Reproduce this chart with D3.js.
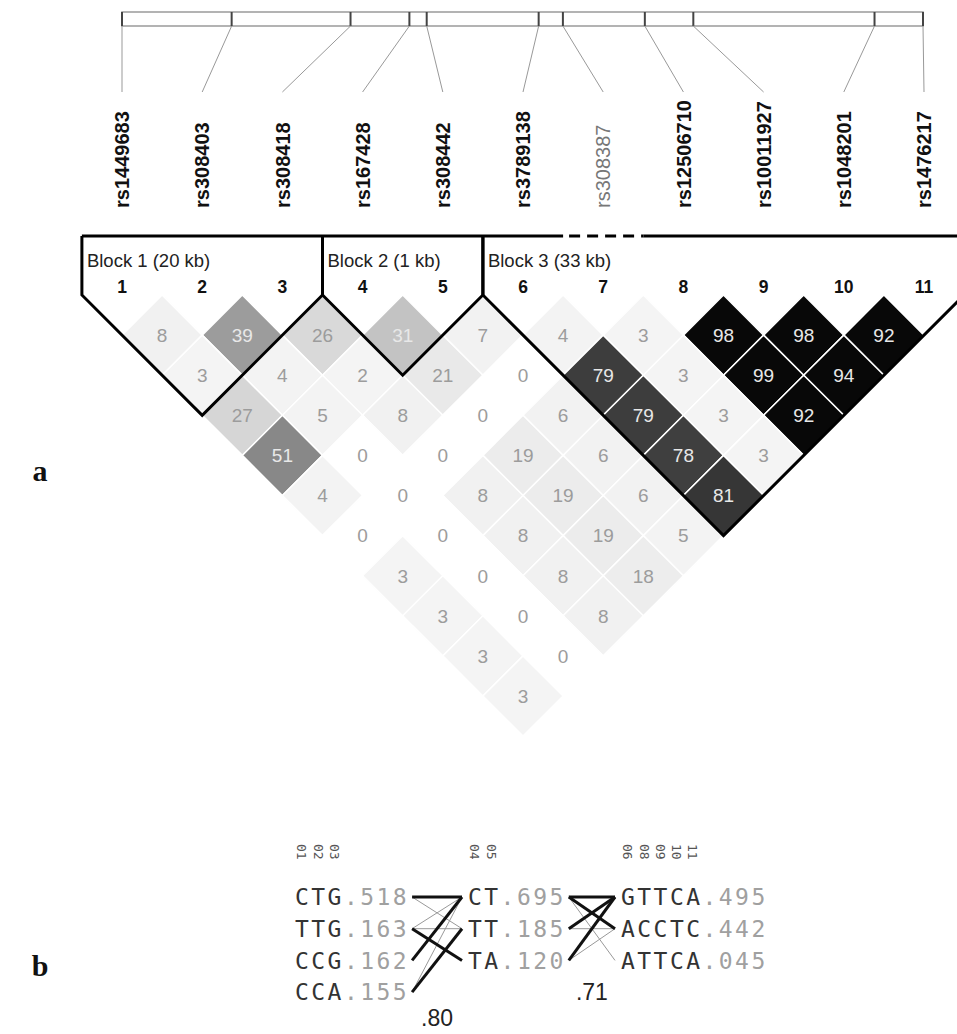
<!DOCTYPE html>
<html>
<head>
<meta charset="utf-8">
<script src="https://cdn.jsdelivr.net/npm/d3@7"></script>
<style>
  body { margin: 0; background: #fff; }
  svg { display: block; }
</style>
</head>
<body>
<script>
// markers, in map order
var snpNames = ['rs1449683', 'rs308403', 'rs308418', 'rs167428', 'rs308442', 'rs3789138',
                'rs308387', 'rs12506710', 'rs10011927', 'rs1048201', 'rs1476217'];
// position along the region (kb from first marker)
var snpKb = [0, 9.5, 19.8, 24.9, 26.4, 36.1, 38.2, 45.3, 49.5, 65.2, 69.4];
// marker left out of block 3
var excludedSnps = [7];

// pairwise LD (r2 x 100); row d holds the pairs (i, i + d + 1)
var ldRows = [
    [8, 39, 26, 31, 7, 4, 3, 98, 98, 92],
    [3, 4, 2, 21, 0, 79, 3, 99, 94],
    [27, 5, 8, 0, 6, 79, 3, 92],
    [51, 0, 0, 19, 6, 78, 3],
    [4, 0, 8, 19, 6, 81],
    [0, 0, 8, 19, 5],
    [3, 0, 8, 18],
    [3, 0, 8],
    [3, 0],
    [3]
];

// haplotype blocks
var blockNames = ['Block 1 (20 kb)', 'Block 2 (1 kb)', 'Block 3 (33 kb)'];
var blockFirst = [1, 4, 6];
var blockLast = [3, 5, 11];

// haplotypes per block (panel b)
var hapMarkers = [['01', '02', '03'], ['04', '05'], ['06', '08', '09', '10', '11']];
var hapStrings = [['CTG', 'TTG', 'CCG', 'CCA'], ['CT', 'TT', 'TA'], ['GTTCA', 'ACCTC', 'ATTCA']];
var hapFreqs = [['.518', '.163', '.162', '.155'], ['.695', '.185', '.120'], ['.495', '.442', '.045']];

// transitions between neighbouring blocks: [from, to, frequency]
var cross12 = [[0, 0, 0.40], [0, 1, 0.05], [1, 0, 0.04], [1, 1, 0.03], [1, 2, 0.11],
               [2, 0, 0.14], [3, 0, 0.03], [3, 1, 0.12]];
var cross23 = [[0, 0, 0.42], [0, 1, 0.20], [0, 2, 0.03], [1, 0, 0.12], [1, 1, 0.04],
               [2, 0, 0.10], [2, 1, 0.02]];
var multiD = ['.80', '.71'];

// init
var width = 957,
    height = 1034,
    sans = 'Liberation Sans, Arial, sans-serif',
    mono = 'DejaVu Sans Mono, monospace';

var svg = d3.select('body')
    .append('svg')
    .attr('width', width)
    .attr('height', height);

// scale for marker columns
var xSnp = d3.scalePoint().domain(d3.range(1, snpNames.length + 1)).range([122, 924]);
var half = xSnp.step() / 2;

// scale for physical position
var xKb = d3.scaleLinear().domain([0, d3.max(snpKb)]).range([122, 923]);

// grey shade for r2
var shade = d3.scaleLinear()
    .domain([0, 2, 20, 27, 39, 51, 80, 92])
    .range(['#ffffff', '#f4f4f4', '#ececec', '#d6d6d6', '#9c9c9c', '#888888', '#3a3a3a', '#080808'])
    .clamp(true);

var topLine = 236,
    diamondTop = 295;

/**
 * draw the map bar with marker ticks and connectors
 */
function drawMap() {
    var g = svg.append('g');
    g.append('rect')
        .attr('x', xKb(0)).attr('y', 12)
        .attr('width', xKb(d3.max(snpKb)) - xKb(0)).attr('height', 14)
        .attr('fill', 'none').attr('stroke', '#9a9a9a').attr('stroke-width', 1.5);
    g.selectAll('line.tick')
        .data(snpKb)
        .join('line')
        .attr('x1', d => xKb(d)).attr('x2', d => xKb(d))
        .attr('y1', 12).attr('y2', 26)
        .attr('stroke', '#444').attr('stroke-width', 2);
    g.selectAll('line.conn')
        .data(snpKb)
        .join('line')
        .attr('x1', d => xKb(d)).attr('y1', 26)
        .attr('x2', (d, i) => xSnp(i + 1)).attr('y2', 92)
        .attr('stroke', '#999').attr('stroke-width', 1);
    // marker names
    g.selectAll('text')
        .data(snpNames)
        .join('text')
        .attr('transform', (d, i) => 'translate(' + xSnp(i + 1) + ',208) rotate(-90)')
        .attr('dy', '0.36em')
        .attr('font-family', sans)
        .attr('font-size', 20)
        .attr('font-weight', (d, i) => excludedSnps.includes(i + 1) ? 'normal' : 'bold')
        .attr('fill', (d, i) => excludedSnps.includes(i + 1) ? '#777' : '#111')
        .text(d => d);
}

/**
 * draw the LD diamonds
 */
function drawDiamonds() {
    var cells = [];
    ldRows.forEach(function (row, d) {
        row.forEach(function (v, k) {
            var i = k + 1, j = k + d + 2;
            cells.push({ v: v, cx: (xSnp(i) + xSnp(j)) / 2, cy: diamondTop + (d + 1) * half });
        });
    });
    var g = svg.append('g');
    g.selectAll('path')
        .data(cells)
        .join('path')
        .attr('d', c => 'M' + c.cx + ',' + (c.cy - half) + 'L' + (c.cx + half) + ',' + c.cy +
            'L' + c.cx + ',' + (c.cy + half) + 'L' + (c.cx - half) + ',' + c.cy + 'Z')
        .attr('fill', c => shade(c.v))
        .attr('stroke', '#fff').attr('stroke-width', 1.5);
    g.selectAll('text')
        .data(cells)
        .join('text')
        .attr('x', c => c.cx).attr('y', c => c.cy)
        .attr('dy', '0.36em')
        .attr('text-anchor', 'middle')
        .attr('font-family', sans)
        .attr('font-size', 19)
        .attr('fill', c => c.v >= 30 ? '#e8e8e8' : '#9c9c9c')
        .text(c => c.v);
}

/**
 * draw block outlines, titles and marker numbers
 */
function drawBlocks() {
    var g = svg.append('g');
    blockFirst.forEach(function (f, b) {
        var l = blockLast[b];
        var left = xSnp(f) - half, right = xSnp(l) + half;
        var mid = (xSnp(f) + xSnp(l)) / 2;
        var bottom = diamondTop + (l - f + 1) * half;
        g.append('path')
            .attr('d', 'M' + left + ',' + topLine + 'L' + left + ',' + diamondTop +
                'L' + mid + ',' + bottom + 'L' + right + ',' + diamondTop + 'L' + right + ',' + topLine)
            .attr('fill', 'none').attr('stroke', '#000').attr('stroke-width', 3)
            .attr('stroke-linejoin', 'miter');
        g.append('text')
            .attr('x', left + 5).attr('y', 267)
            .attr('font-family', sans).attr('font-size', 18.5)
            .attr('fill', '#222')
            .text(blockNames[b]);
    });
    // top line, dashed over the excluded marker
    var x0 = xSnp(blockFirst[0]) - half;
    var x1 = xSnp(d3.max(blockLast)) + half;
    var ex = excludedSnps[0];
    var segs = [[x0, xSnp(ex) - half, false], [xSnp(ex) - half + 6, xSnp(ex) + half, true], [xSnp(ex) + half, x1, false]];
    g.selectAll('line.top')
        .data(segs)
        .join('line')
        .attr('x1', d => d[0]).attr('x2', d => d[1])
        .attr('y1', topLine).attr('y2', topLine)
        .attr('stroke', '#000').attr('stroke-width', 3)
        .attr('stroke-dasharray', d => d[2] ? '11,7' : null);
    // marker numbers
    g.selectAll('text.num')
        .data(snpNames)
        .join('text')
        .attr('x', (d, i) => xSnp(i + 1)).attr('y', 293)
        .attr('text-anchor', 'middle')
        .attr('font-family', sans).attr('font-size', 17.5).attr('font-weight', 'bold')
        .attr('fill', '#111')
        .text((d, i) => i + 1);
}

/**
 * draw haplotypes (panel b)
 */
function drawHaplotypes() {
    var fs = 23, adv = 0.602 * fs, pitch = 16.3;
    var starts = [295, 468, 621];
    var y0 = 897, dy = 31.7;
    var g = svg.append('g');
    var ends = [];
    hapStrings.forEach(function (haps, b) {
        var s = starts[b];
        ends.push(s + (haps[0].length + hapFreqs[b][0].length) * pitch);
        g.append('g').selectAll('text')
            .data(hapMarkers[b])
            .join('text')
            .attr('transform', (d, k) => 'translate(' + (s + k * pitch + adv / 2) + ',844) rotate(90)')
            .attr('dy', '0.36em')
            .attr('font-family', mono).attr('font-size', 13)
            .attr('fill', '#555')
            .text(d => d);
        var rows = g.append('g').selectAll('text')
            .data(haps)
            .join('text')
            .attr('x', s).attr('y', (d, k) => y0 + k * dy)
            .attr('dy', '0.36em')
            .attr('font-family', mono).attr('font-size', fs)
            .attr('letter-spacing', pitch - adv);
        rows.append('tspan').attr('fill', '#333').text(d => d);
        rows.append('tspan').attr('fill', '#a0a0a0').text((d, k) => hapFreqs[b][k]);
    });
    // transitions
    [cross12, cross23].forEach(function (cross, b) {
        var xa = ends[b] + 3, xb = starts[b + 1] - 6;
        g.append('g').selectAll('line')
            .data(cross.slice().sort((p, q) => p[2] - q[2]))
            .join('line')
            .attr('x1', xa).attr('y1', d => y0 + d[0] * dy)
            .attr('x2', xb).attr('y2', d => y0 + d[1] * dy)
            .attr('stroke', d => d[2] >= 0.1 ? '#111' : '#999')
            .attr('stroke-width', d => d[2] >= 0.1 ? 3 : 1);
        var n = Math.max(hapStrings[b].length, hapStrings[b + 1].length);
        g.append('text')
            .attr('x', (xa + xb) / 2).attr('y', Math.min(y0 + n * dy, 1018))
            .attr('dy', '0.36em')
            .attr('text-anchor', 'middle')
            .attr('font-family', sans).attr('font-size', 23)
            .attr('fill', '#222')
            .text(multiD[b]);
    });
}

/**
 * panel letters
 */
function drawPanelLetters() {
    svg.selectAll('text.panel')
        .data([['a', 470], ['b', 965]])
        .join('text')
        .attr('x', 40).attr('y', d => d[1])
        .attr('dy', '0.36em')
        .attr('text-anchor', 'middle')
        .attr('font-family', 'Liberation Serif, Times New Roman, serif')
        .attr('font-size', 30).attr('font-weight', 'bold')
        .attr('fill', '#111')
        .text(d => d[0]);
}

// draw
drawMap();
drawDiamonds();
drawBlocks();
drawHaplotypes();
drawPanelLetters();
</script>
</body>
</html>
